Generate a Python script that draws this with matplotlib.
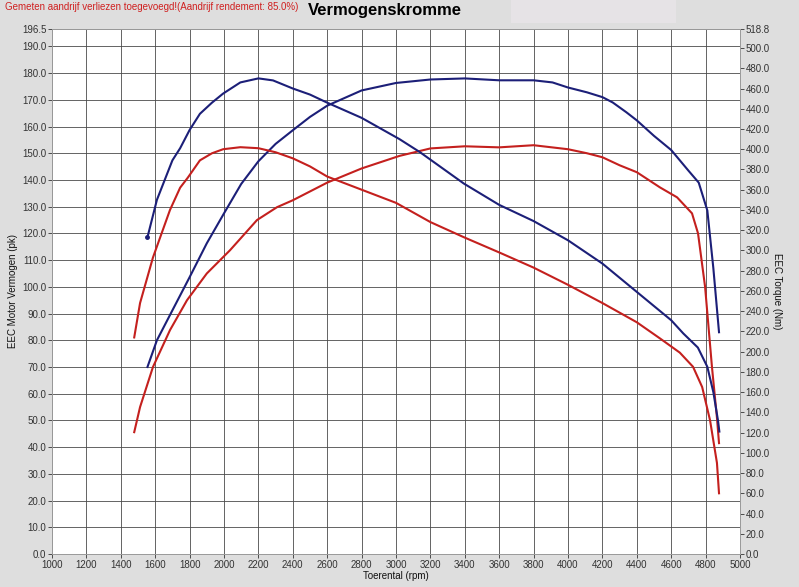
#!/usr/bin/env python3
"""
Dyno chart (Vermogenskromme): power in pk on the left axis,
torque in Nm on the right axis, measured vs. tuned run.
"""

import matplotlib
matplotlib.use('Agg')
import matplotlib.pyplot as plt

# Blue run - power (pk)
blue_power_rpm = [1555, 1610, 1700, 1800, 1900, 2000, 2100, 2200, 2300, 2400, 2500, 2600,
                  2800, 3000, 3200, 3400, 3600, 3800, 3910, 4000, 4110, 4200, 4260, 4340,
                  4400, 4500, 4600, 4700, 4760, 4810, 4845, 4878]
blue_power = [70.0, 80.0, 91.2, 103.6, 116.3, 127.5, 138.5, 147.0, 153.5, 158.6, 163.6, 167.8,
              173.5, 176.3, 177.6, 178.0, 177.3, 177.3, 176.5, 174.6, 172.8, 171.0, 169.0, 165.3,
              162.3, 156.5, 151.2, 143.5, 139.0, 128.6, 107.0, 83.0]

# Blue run - torque (Nm)
blue_torque_rpm = [1555, 1610, 1700, 1745, 1800, 1860, 1930, 1995, 2095, 2200, 2285, 2400,
                   2500, 2600, 2800, 3020, 3140, 3395, 3600, 3800, 4000, 4200, 4400, 4600,
                   4670, 4755, 4810, 4845, 4872, 4880]
blue_torque = [313, 350, 389, 401, 419, 435, 446, 455, 466, 470, 468, 460,
               454, 446, 431, 410, 397, 366, 345, 329, 310, 287, 259, 231,
               218, 204, 185, 160, 132, 121]

# Red run - power (pk)
red_power_rpm = [1478, 1512, 1587, 1686, 1785, 1900, 2035, 2192, 2308, 2400, 2600, 2800,
                 3020, 3200, 3400, 3600, 3800, 4000, 4110, 4200, 4300, 4400, 4535, 4634,
                 4721, 4756, 4797, 4837, 4866, 4878]
red_power = [45.6, 55.0, 70.0, 83.8, 95.0, 105.0, 113.7, 125.0, 129.8, 132.4, 139.0, 144.3,
             149.0, 151.8, 152.6, 152.2, 153.0, 151.5, 150.0, 148.5, 145.5, 142.9, 137.2, 133.5,
             127.5, 120.0, 100.0, 70.0, 51.0, 41.5]

# Red run - torque (Nm)
red_torque_rpm = [1478, 1512, 1587, 1686, 1745, 1790, 1860, 1930, 1995, 2095, 2200, 2300,
                  2400, 2500, 2600, 2800, 3000, 3200, 3395, 3600, 3800, 4000, 4200, 4400,
                  4535, 4650, 4727, 4780, 4826, 4866, 4878]
red_torque = [214, 248, 293, 340, 362, 372, 389, 396, 400, 402, 401, 397,
              391, 383, 373, 360, 347, 328, 313, 298, 283, 266, 248, 229,
              213, 199, 185, 165, 132, 90, 60]

x_ticks = list(range(1000, 5001, 200))
pk_ticks = [v * 10.0 for v in range(0, 20)] + [196.5]
nm_ticks = [v * 20.0 for v in range(0, 26)] + [518.8]

BLUE = '#1c1f78'
RED = '#c4201e'
BG = '#dedede'
GRID = '#4a4a4a'
TXT = '#333333'

plt.rcParams['font.family'] = ['Liberation Sans', 'DejaVu Sans']

fig = plt.figure(figsize=(7.99, 5.87), dpi=100, facecolor=BG)
ax = fig.add_axes([52 / 799, 33 / 587, 688 / 799, 525 / 587])
ax.set_facecolor('white')

ax.set_xlim(1000, 5000)
ax.set_ylim(0, 196.5)
ax.set_xticks(x_ticks)
ax.set_yticks(pk_ticks)
ax.set_xticklabels([str(v) for v in x_ticks])
ax.set_yticklabels(['%.1f' % v for v in pk_ticks])
ax.grid(True, color=GRID, linewidth=0.6)
ax.set_axisbelow(True)
ax.tick_params(axis='both', labelsize=7, colors=TXT, length=3, width=0.6, pad=1)

ax2 = ax.twinx()
ax2.set_ylim(0, 518.8)
ax2.set_yticks(nm_ticks)
ax2.set_yticklabels(['%.1f' % v for v in nm_ticks])
ax2.tick_params(axis='y', labelsize=7, colors=TXT, length=3, width=0.6, pad=1)

for a in (ax, ax2):
    for s in a.spines.values():
        s.set_color('#9a9a9a')
        s.set_linewidth(0.6)

ax.plot(blue_power_rpm, blue_power, color=BLUE, linewidth=1.5)
ax.plot(red_power_rpm, red_power, color=RED, linewidth=1.5)
ax2.plot(blue_torque_rpm, blue_torque, color=BLUE, linewidth=1.5)
ax2.plot(red_torque_rpm, red_torque, color=RED, linewidth=1.5)
ax2.plot(blue_torque_rpm[:1], blue_torque[:1], 'o', color=BLUE, markersize=2.5)

ax.set_xlabel('Toerental (rpm)', fontsize=7, color='#111111', labelpad=1)
ax.set_ylabel('EEC Motor Vermogen (pk)', fontsize=7, color='#111111', labelpad=3)
ax2.set_ylabel('EEC Torque (Nm)', fontsize=7, color='#111111', rotation=270, labelpad=9)

# header
fig.patches.append(plt.Rectangle((511 / 799, 1 - 23 / 587), 165 / 799, 23 / 587,
                                 transform=fig.transFigure, facecolor='#e6e3e6',
                                 edgecolor='none', zorder=0))
fig.text(5 / 799, 1 - 7 / 587, 'Gemeten aandrijf verliezen toegevoegd!(Aandrijf rendement: 85.0%)',
         fontsize=7, color='#d02020', va='center', ha='left')
fig.text(385 / 799, 1 - 11 / 587, 'Vermogenskromme', fontsize=12, fontweight='bold',
         color='black', va='center', ha='center')

fig.savefig('out.png', dpi=100, facecolor=BG)
